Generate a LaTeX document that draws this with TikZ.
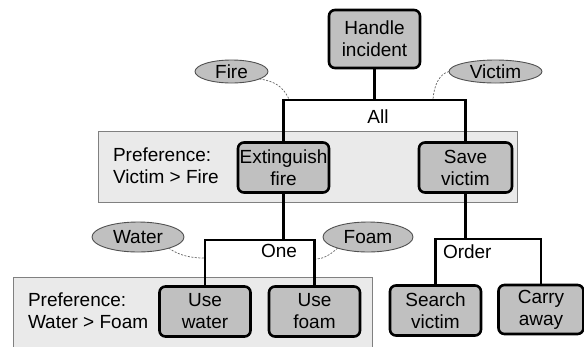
\documentclass[tikz,border=0pt]{standalone}
\usepackage{fontspec}
\setmainfont{Liberation Sans}
\usetikzlibrary{shapes.geometric}
\definecolor{boxgray}{RGB}{192,192,192}
\definecolor{bandgray}{RGB}{234,234,234}
\definecolor{bandline}{RGB}{128,128,128}
\definecolor{ellline}{RGB}{80,80,80}
\definecolor{dashline}{RGB}{100,100,100}
\begin{document}
\begin{tikzpicture}[x=1pt,y=-1pt,
  every node/.style={font=\fontsize{19}{22}\selectfont, inner sep=0pt, outer sep=0pt},
  task/.style={draw=black, line width=2.6pt, fill=boxgray, rounded corners=6pt,
    minimum width=91pt, minimum height=50pt, align=center},
  band/.style={draw=bandline, line width=0.8pt, fill=bandgray},
  res/.style={ellipse, draw=ellline, line width=0.9pt, fill=boxgray},
  bar/.style={line width=2.6pt, line join=miter},
  dashc/.style={draw=dashline, line width=0.7pt, dash pattern=on 2pt off 1.5pt},
  pref/.style={anchor=west, align=left}
]
\useasboundingbox[fill=white] (0,0) rectangle (584,346);

% preference bands
\node[band, minimum width=419pt, minimum height=71pt] (band1) at (307.5,166.5) {};
\node[band, minimum width=359pt, minimum height=73pt] (band2) at (192.5,313.5) {};
\node[pref] (pref1) at (113,166) {Preference:\\Victim > Fire};
\node[pref] (pref2) at (28,311) {Preference:\\Water > Foam};

% tasks
\node[task, minimum height=58pt] (hi) at (374.5,39) {Handle\\incident};
\node[task] (ext) at (283.5,167.5) {Extinguish\\fire};
\node[task, minimum width=93pt] (save) at (465.5,167.5) {Save\\victim};
\node[task] (usew) at (205,311.5) {Use\\water};
\node[task] (usef) at (314.5,311.5) {Use\\foam};
\node[task] (search) at (435.5,310.5) {Search\\victim};
\node[task, minimum width=85pt, minimum height=49pt] (carry) at (541,309.5) {Carry\\away};

% resources
\node[res, minimum width=73pt, minimum height=23pt] (fire) at (231.5,71.5) {Fire};
\node[res, minimum width=93pt, minimum height=23pt] (victim) at (495.5,71.5) {Victim};
\node[res, minimum width=92pt, minimum height=30pt] (water) at (138,237) {Water};
\node[res, minimum width=90pt, minimum height=30pt] (foam) at (368,237) {Foam};

% brackets
\coordinate (allc) at (374.5,100);
\coordinate (onec) at (283.5,240);
\coordinate (ordc) at (465.5,239);
\draw[bar] (hi.south) -- (allc);
\draw[bar] (ext.north) |- (allc) -| (save.north);
\draw[bar] (ext.south) -- (onec);
\draw[bar] (usew.north) |- (onec) -| (usef.north);
\draw[bar] (save.south) -- (ordc);
\draw[bar] (search.north) |- (ordc) -| (carry.north);

\node (allt) at (378,117) {All};
\node (onet) at (279,251) {One};
\node[anchor=west] (ordt) at (443,252) {Order};

% resource links
\coordinate (fireend) at (289,99);
\coordinate (victimend) at (433,99);
\coordinate (waterend) at (204,258);
\coordinate (foamend) at (316,259);
\draw[dashc] (fire.-15) .. controls (281,82) and (285,92) .. (fireend);
\draw[dashc] (victim.west) .. controls (439,74) and (434,86) .. (victimend);
\draw[dashc] (water.-20) .. controls (180,256) and (192,258) .. (waterend);
\draw[dashc] (foam.200) .. controls (329,256) and (322,259) .. (foamend);
\end{tikzpicture}
\end{document}
